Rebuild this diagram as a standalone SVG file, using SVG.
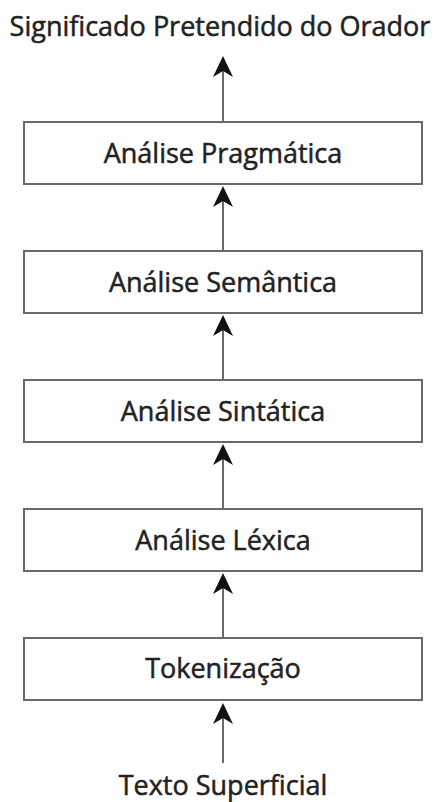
<svg xmlns="http://www.w3.org/2000/svg" width="436" height="802" viewBox="0 0 436 802">
  <style>
    .box { fill: #ffffff; stroke: #6a6a6a; stroke-width: 2; }
    .label { font-family: "Open Sans", "Noto Sans", sans-serif; font-size: 27px; fill: #222222; stroke: #222222; stroke-width: 0.5; text-anchor: middle; }
    .link { stroke: #6a6a6a; stroke-width: 2; fill: none; marker-end: url(#head); }
  </style>
  <defs>
    <!-- notched arrowhead; the line stops at the notch, the tip sits 15px beyond -->
    <marker id="head" markerUnits="userSpaceOnUse" orient="auto" viewBox="-7 -11 23 22" refX="0" refY="0" markerWidth="23" markerHeight="22">
      <path d="M15,0 L-6,-10 L0,0 L-6,10 Z" fill="#111111"/>
    </marker>
  </defs>
  <rect width="436" height="802" fill="#ffffff"/>

  <text class="label" x="220" y="36">Significado Pretendido do Orador</text>

  <g id="pragmatica">
    <rect class="box" x="24" y="122" width="398" height="62"/>
    <text class="label" x="223" y="163">Análise Pragmática</text>
  </g>
  <g id="semantica">
    <rect class="box" x="24" y="251" width="398" height="62"/>
    <text class="label" x="223" y="292">Análise Semântica</text>
  </g>
  <g id="sintatica">
    <rect class="box" x="24" y="380" width="398" height="62"/>
    <text class="label" x="223" y="421">Análise Sintática</text>
  </g>
  <g id="lexica">
    <rect class="box" x="24" y="509" width="398" height="62"/>
    <text class="label" x="223" y="550">Análise Léxica</text>
  </g>
  <g id="tokenizacao">
    <rect class="box" x="24" y="638" width="398" height="62"/>
    <text class="label" x="223" y="678">Tokenização</text>
  </g>

  <text class="label" x="223" y="795">Texto Superficial</text>

  <g id="connectors">
    <line class="link" x1="223" y1="122" x2="223" y2="71"/>
    <line class="link" x1="223" y1="251" x2="223" y2="201"/>
    <line class="link" x1="223" y1="380" x2="223" y2="330"/>
    <line class="link" x1="223" y1="509" x2="223" y2="459"/>
    <line class="link" x1="223" y1="638" x2="223" y2="588"/>
    <line class="link" x1="223" y1="763" x2="223" y2="718"/>
  </g>
</svg>
